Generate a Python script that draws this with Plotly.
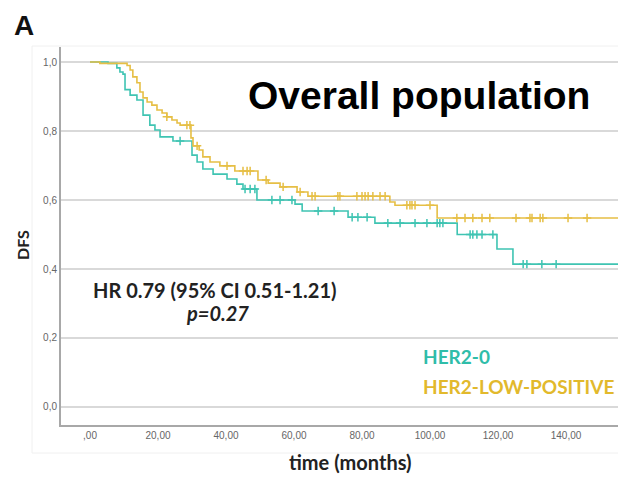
import plotly.graph_objects as go

# HER2-0 (teal) Kaplan-Meier steps
her2_0_time = [0, 5.3, 7.9, 8.8, 9.7, 10.3, 11.8, 13.8, 15.6, 17.6, 19.1, 20.6, 24.4, 30.0, 31.5,
               33.2, 36.2, 40.3, 43.2, 45.0, 49.1, 60.3, 62.4, 75.9, 83.8, 108.0, 119.7, 124.4, 160]
her2_0_surv = [1.0, 0.996, 0.983, 0.971, 0.965, 0.92, 0.904, 0.89, 0.846, 0.817, 0.803, 0.783, 0.771, 0.73, 0.71,
               0.69, 0.675, 0.661, 0.646, 0.632, 0.60, 0.588, 0.568, 0.55, 0.533, 0.50, 0.458, 0.414, 0.414]
her2_0_cens_t = [26.5, 45.6, 47.1, 48.5, 53.5, 55.9, 59.4, 67.1, 71.8, 77.1, 78.8, 81.5, 87.6, 91.2, 95.6,
                 99.1, 102.1, 102.9, 103.8, 111.8, 112.6, 113.8, 115.3, 118.5, 127.4, 128.5, 132.9, 137.1]

# HER2-LOW-POSITIVE (yellow) Kaplan-Meier steps
her2_low_time = [0, 2.9, 10.9, 11.8, 12.6, 13.8, 14.7, 15.6, 16.8, 18.2, 19.7, 21.2, 22.6, 24.1, 25.6, 26.5,
                 29.7, 30.3, 32.1, 33.2, 35.3, 38.2, 42.6, 49.4, 52.4, 55.9, 60.9, 64.1, 88.2, 89.7, 102.1, 160]
her2_low_surv = [1.0, 0.996, 0.99, 0.977, 0.957, 0.94, 0.913, 0.896, 0.884, 0.875, 0.861, 0.852, 0.841, 0.832, 0.823, 0.817,
                 0.78, 0.757, 0.745, 0.725, 0.71, 0.699, 0.684, 0.658, 0.649, 0.638, 0.623, 0.611, 0.594, 0.585, 0.548, 0.548]
her2_low_cens_t = [22.6, 28.5, 29.4, 31.5, 40.3, 45.0, 46.2, 47.1, 51.8, 56.8, 61.8, 65.3, 66.2, 72.9, 73.5,
                   78.5, 80.0, 80.9, 81.8, 83.2, 85.3, 86.8, 93.2, 94.1, 94.7, 95.6, 100.0, 107.9, 110.3, 112.6,
                   115.3, 117.6, 125.3, 129.4, 130.0, 132.4, 133.2, 140.6, 146.2]

y_ticks = [0.0, 0.2, 0.4, 0.6, 0.8, 1.0]
y_tick_labels = ["0,0", "0,2", "0,4", "0,6", "0,8", "1,0"]
x_ticks = [0, 20, 40, 60, 80, 100, 120, 140]
x_tick_labels = [",00", "20,00", "40,00", "60,00", "80,00", "100,00", "120,00", "140,00"]

TEAL = "#3fc4b2"
YELLOW = "#e6bf45"


def surv_at(times, survs, t):
    s = survs[0]
    for ti, si in zip(times, survs):
        if ti <= t:
            s = si
    return s


fig = go.Figure()
for times, survs, cens, col in [(her2_0_time, her2_0_surv, her2_0_cens_t, TEAL),
                                (her2_low_time, her2_low_surv, her2_low_cens_t, YELLOW)]:
    fig.add_trace(go.Scatter(x=times, y=survs, mode="lines", line=dict(color=col, width=1.6, shape="hv"),
                             showlegend=False, hoverinfo="skip"))
    fig.add_trace(go.Scatter(x=cens, y=[surv_at(times, survs, t) for t in cens], mode="markers",
                             marker=dict(symbol="cross-thin", size=6, line=dict(color=col, width=1.5)),
                             showlegend=False, hoverinfo="skip"))

# page body has an 8px margin: the figure starts at (8, 8) in the window
OFF = 8
W, H = 626 - OFF, 477 - OFF
L, R, T, B = 61 - OFF, 0, 47 - OFF, 477 - 425
pw, ph = W - L - R, H - T - B


def px(x):  # reference window pixel -> paper x
    return (x - OFF - L) / pw


def py(y):  # reference window pixel -> paper y
    return (H - B - (y - OFF)) / ph


annos = [
    dict(text="<b>A</b>", x=px(12), y=py(26), xanchor="left", yanchor="middle",
         font=dict(family="Liberation Sans, Arial", size=28, color="#111")),
    dict(text="<b>Overall population</b>", x=px(246), y=py(95), xanchor="left", yanchor="middle",
         font=dict(family="Liberation Sans, Arial", size=39, color="#000")),
    dict(text="<b>HR 0.79 (95% CI 0.51-1.21)</b>", x=px(91), y=py(290), xanchor="left", yanchor="middle",
         font=dict(family="Lato, Open Sans", size=20, color="#222")),
    dict(text="<b><i>p=0.27</i></b>", x=px(217), y=py(313), xanchor="center", yanchor="middle",
         font=dict(family="Lato, Open Sans", size=20, color="#222")),
    dict(text="<b>HER2-0</b>", x=px(421), y=py(356), xanchor="left", yanchor="middle",
         font=dict(family="Lato, Open Sans", size=19, color="#2fbda9")),
    dict(text="<b>HER2-LOW-POSITIVE</b>", x=px(421), y=py(386), xanchor="left", yanchor="middle",
         font=dict(family="Lato, Open Sans", size=19, color="#e2b92c")),
    dict(text="<b>DFS</b>", x=px(22), y=py(245), xanchor="center", yanchor="middle", textangle=-90,
         font=dict(family="Lato, Open Sans", size=16, color="#222")),
    dict(text="<b>time (months)</b>", x=px(350), y=py(462), xanchor="center", yanchor="middle",
         font=dict(family="Lato, Open Sans", size=20, color="#222")),
]
for a in annos:
    a.update(xref="paper", yref="paper", showarrow=False)

fig.update_layout(
    width=W, height=H, margin=dict(l=L, r=R, t=T, b=B),
    paper_bgcolor="white", plot_bgcolor="white",
    annotations=annos,
    shapes=[dict(type="rect", xref="paper", yref="paper", x0=px(32), x1=px(640), y0=py(453), y1=py(46),
                 line=dict(color="#f0f0f0", width=1), layer="below")],
    xaxis=dict(range=[-8.53, 157.65], tickvals=x_ticks, ticktext=x_tick_labels, showgrid=False,
               zeroline=False, showline=True, linecolor="#a8a8a8", linewidth=2, ticks="",
               tickfont=dict(family="Liberation Sans, Arial", size=10, color="#666")),
    yaxis=dict(range=[-0.0522, 1.0435], tickvals=y_ticks, ticktext=y_tick_labels, showgrid=True,
               gridcolor="#d9d9d9", gridwidth=2, zeroline=False, showline=True, linecolor="#a8a8a8",
               linewidth=2, ticks="", tickfont=dict(family="Liberation Sans, Arial", size=10, color="#666")),
)

fig.write_html("out.html")
